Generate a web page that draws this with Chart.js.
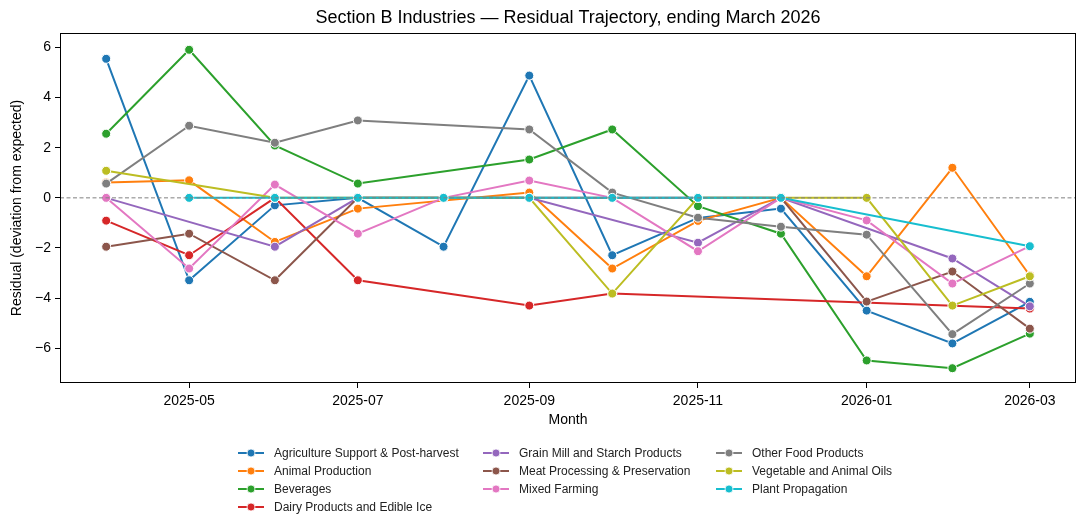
<!DOCTYPE html>
<html lang="en">
<head>
  <meta charset="UTF-8">
  <title>Section B Industries — Residual Trajectory</title>
  <script src="https://cdn.jsdelivr.net/npm/chart.js@4.4.1/dist/chart.umd.min.js"></script>
  <style>
    body { margin: 0; background: #fff; }
    #wrap { position: relative; width: 1087px; height: 529px; }
    #legend { position: absolute; left: 0; top: 0; width: 1087px; height: 529px; pointer-events: none;
      font-family: 'Liberation Sans', Arial, sans-serif; font-size: 12px; color: #222; }
    .item { position: absolute; display: flex; align-items: center; white-space: nowrap; height: 16px; }
    .item svg { margin-right: 10px; }
  </style>
</head>
<body>
  <div id="wrap">
    <canvas id="chart" width="1087" height="529"></canvas>
    <div id="legend"></div>
  </div>
  <script>
    const months = ['2025-04', '2025-05', '2025-06', '2025-07', '2025-08', '2025-09',
                    '2025-10', '2025-11', '2025-12', '2026-01', '2026-02', '2026-03'];
    const tickLabels = ['2025-05', '2025-07', '2025-09', '2025-11', '2026-01', '2026-03'];

    const industries = [
      'Agriculture Support & Post-harvest', 'Animal Production', 'Beverages',
      'Dairy Products and Edible Ice', 'Grain Mill and Starch Products',
      'Meat Processing & Preservation', 'Mixed Farming', 'Other Food Products',
      'Vegetable and Animal Oils', 'Plant Propagation'
    ];
    const colors = ['#1f77b4', '#ff7f0e', '#2ca02c', '#d62728', '#9467bd',
                    '#8c564b', '#e377c2', '#7f7f7f', '#bcbd22', '#17becf'];

    // residuals per month (null = no observation)
    const agricultureSupport = [5.55, -3.29, -0.30, 0.00, -1.95, 4.88, -2.29, -0.80, -0.43, -4.50, -5.81, -4.15];
    const animalProduction   = [0.61, 0.70, -1.76, -0.43, null, 0.21, -2.82, -0.92, 0.00, -3.13, 1.20, -3.10];
    const beverages          = [2.56, 5.91, 2.09, 0.57, null, 1.53, 2.73, -0.33, -1.43, -6.49, -6.80, -5.42];
    const dairyProducts      = [-0.91, -2.29, 0.00, -3.29, null, -4.30, -3.82, null, null, null, null, -4.42];
    const grainMill          = [0.00, null, -1.95, 0.00, 0.00, 0.00, null, -1.79, 0.00, null, -2.42, -4.33];
    const meatProcessing     = [-1.95, -1.43, -3.29, 0.00, null, null, null, null, 0.00, -4.14, -2.94, -5.22];
    const mixedFarming       = [0.00, -2.82, 0.53, -1.43, 0.00, 0.69, 0.00, -2.13, 0.00, -0.90, -3.42, -1.93];
    const otherFood          = [0.57, 2.88, 2.20, 3.09, null, 2.73, 0.21, -0.79, -1.15, -1.47, -5.44, -3.42];
    const vegetableOils      = [1.08, null, 0.00, null, null, 0.00, -3.82, 0.00, 0.00, 0.00, -4.30, -3.13];
    const plantPropagation   = [null, 0.00, 0.00, 0.00, 0.00, 0.00, 0.00, 0.00, 0.00, null, null, -1.93];

    const series = [agricultureSupport, animalProduction, beverages, dairyProducts, grainMill,
                    meatProcessing, mixedFarming, otherFood, vegetableOils, plantPropagation];

    // x positions are days since the first month, so spacing follows the calendar
    const DAY = 86400000;
    const base = Date.UTC(2025, 3, 1);
    const dayOf = m => {
      const [y, mo] = m.split('-').map(Number);
      return (Date.UTC(y, mo - 1, 1) - base) / DAY;
    };
    const xs = months.map(dayOf);
    const span = xs[xs.length - 1] - xs[0];

    const FONT = "'Liberation Sans', Arial, sans-serif";
    const TITLE = 'Section B Industries — Residual Trajectory, ending March 2026';

    const datasets = series.map((vals, i) => ({
      label: industries[i],
      data: vals.map((v, j) => ({ x: xs[j], y: v })),
      borderColor: colors[i],
      backgroundColor: colors[i],
      borderWidth: 2,
      pointRadius: 4.5,
      pointBorderColor: '#fff',
      pointBorderWidth: 1,
      pointBackgroundColor: colors[i],
      spanGaps: true,
      tension: 0,
      order: series.length - i
    }));

    // zero reference line, closed frame and a title centred over the axes
    const frame = {
      id: 'frame',
      afterDatasetsDraw(chart) {
        const { ctx, chartArea: a, scales } = chart;
        const y0 = scales.y.getPixelForValue(0);
        ctx.save();
        ctx.strokeStyle = '#808080';
        ctx.lineWidth = 1;
        ctx.setLineDash([4, 2.5]);
        ctx.beginPath();
        ctx.moveTo(a.left, y0);
        ctx.lineTo(a.right, y0);
        ctx.stroke();
        ctx.setLineDash([]);
        ctx.strokeStyle = '#000';
        const l = Math.round(a.left) + 0.5, t = Math.round(a.top) + 0.5;
        const r = Math.round(a.right) - 0.5, b = Math.round(a.bottom) - 0.5;
        ctx.strokeRect(l, t, r - l, b - t);
        ctx.fillStyle = '#000';
        ctx.font = `18px ${FONT}`;
        ctx.textAlign = 'center';
        ctx.textBaseline = 'middle';
        ctx.fillText(TITLE, (a.left + a.right) / 2, 18);
        ctx.restore();
      }
    };

    new Chart(document.getElementById('chart'), {
      type: 'line',
      data: { datasets },
      options: {
        responsive: false,
        animation: false,
        layout: { padding: { left: 0, right: 11, top: 33, bottom: 100 } },
        plugins: {
          legend: { display: false },
          tooltip: { enabled: false },
          title: { display: false }
        },
        scales: {
          x: {
            type: 'linear',
            min: xs[0] - span * 0.05,
            max: xs[xs.length - 1] + span * 0.05,
            afterBuildTicks: s => { s.ticks = tickLabels.map(t => ({ value: dayOf(t) })); },
            afterFit: s => { s.height = 46; },
            ticks: {
              color: '#000',
              font: { family: FONT, size: 14 },
              padding: 5,
              maxRotation: 0,
              autoSkip: false,
              callback: v => months[xs.indexOf(v)] || ''
            },
            grid: { display: true, drawOnChartArea: false, drawTicks: true, tickLength: 5, color: '#000' },
            border: { display: false },
            title: { display: true, text: 'Month', color: '#000', font: { family: FONT, size: 14 }, padding: { top: 0, bottom: 0 } }
          },
          y: {
            min: -7.39,
            max: 6.58,
            afterFit: s => { s.width = 60; },
            ticks: {
              stepSize: 2,
              includeBounds: false,
              color: '#000',
              font: { family: FONT, size: 14 },
              padding: 4,
              callback: v => String(v).replace('-', '\u2212')
            },
            grid: { display: true, drawOnChartArea: false, drawTicks: true, tickLength: 5, color: '#000' },
            border: { display: false },
            title: { display: true, text: 'Residual (deviation from expected)', color: '#000', font: { family: FONT, size: 14 }, padding: { top: 9, bottom: 0 } }
          }
        }
      },
      plugins: [frame]
    });

    // legend: three columns, filled column by column
    const legendCols = [238, 483, 716];
    const legendRows = [453, 471, 489, 507];
    const perCol = [4, 3, 3];
    const legend = document.getElementById('legend');
    let k = 0;
    perCol.forEach((n, c) => {
      for (let r = 0; r < n; r++, k++) {
        const el = document.createElement('div');
        el.className = 'item';
        el.style.left = legendCols[c] + 'px';
        el.style.top = (legendRows[r] - 8) + 'px';
        el.innerHTML = `<svg width="26" height="10"><line x1="0" y1="5" x2="26" y2="5" stroke="${colors[k]}" stroke-width="2"/>` +
          `<circle cx="13" cy="5" r="4" fill="${colors[k]}" stroke="#fff" stroke-width="0.8"/></svg>` +
          `<span>${industries[k]}</span>`;
        legend.appendChild(el);
      }
    });
  </script>
</body>
</html>
